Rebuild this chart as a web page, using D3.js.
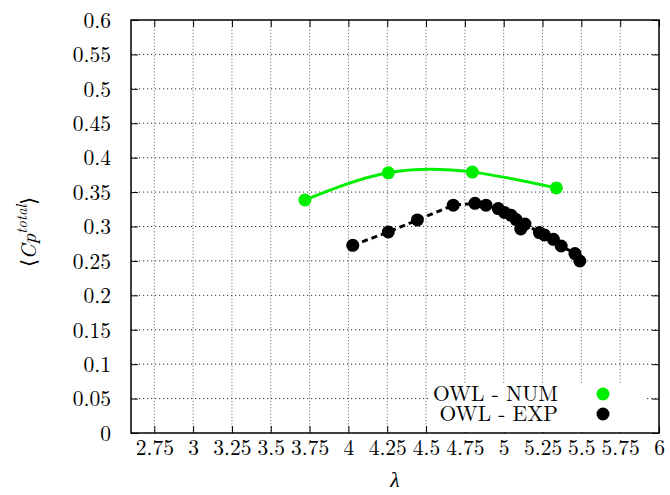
<!DOCTYPE html>
<html><head><meta charset="utf-8">
<script src="https://cdn.jsdelivr.net/npm/d3@7"></script>
<style>body{margin:0;background:#fff}</style>
</head><body>
<svg id="c" width="670" height="495"></svg>
<script>
// ---- data ----
const numLambda = [3.72, 4.257, 4.798, 5.339];
const numCp     = [0.3385, 0.378, 0.379, 0.356];
const expLambda = [4.028, 4.257, 4.444, 4.675, 4.815, 4.886, 4.965, 5.005, 5.048, 5.08, 5.11, 5.137, 5.23, 5.262, 5.32, 5.37, 5.459, 5.49];
const expCp     = [0.2727, 0.292, 0.3095, 0.331, 0.3337, 0.331, 0.326, 0.3205, 0.3162, 0.31, 0.2964, 0.3035, 0.2912, 0.2877, 0.2814, 0.2717, 0.2606, 0.2499];
const xTicks = [2.75, 3, 3.25, 3.5, 3.75, 4, 4.25, 4.5, 4.75, 5, 5.25, 5.5, 5.75, 6];
const yTicks = [0, 0.05, 0.1, 0.15, 0.2, 0.25, 0.3, 0.35, 0.4, 0.45, 0.5, 0.55, 0.6];
const seriesNames = ["OWL - NUM", "OWL - EXP"];
const seriesColors = ["#00ee00", "#000000"];

const L = 131, R = 659, T = 20, B = 433;
const x = d3.scaleLinear().domain([2.6, 6]).range([L, R]);
const y = d3.scaleLinear().domain([0, 0.6]).range([B, T]);
const svg = d3.select("#c");
const font = '"Latin Modern Roman", "Liberation Serif", serif';

// grid
const g = svg.append("g");
g.selectAll(".gx").data(xTicks.filter(d => d < 6)).enter().append("line")
  .attr("x1", d => x(d)).attr("x2", d => x(d)).attr("y1", T).attr("y2", B)
  .attr("stroke", "#777").attr("stroke-width", 1).attr("stroke-dasharray", "1.2,2");
g.selectAll(".gy").data(yTicks.filter(d => d > 0 && d < 0.6)).enter().append("line")
  .attr("x1", L).attr("x2", R).attr("y1", d => y(d)).attr("y2", d => y(d))
  .attr("stroke", "#333").attr("stroke-width", 1).attr("stroke-dasharray", "1.2,2.8");

// axes (inward ticks, mirrored)
const tl = 7;
const xb = svg.append("g").attr("transform", `translate(0,${B})`)
  .call(d3.axisBottom(x).tickValues(xTicks).tickSize(-tl).tickPadding(tl + 9).tickFormat(d3.format("")));
const xt = svg.append("g").attr("transform", `translate(0,${T})`)
  .call(d3.axisTop(x).tickValues(xTicks).tickSize(-tl).tickFormat(""));
const yl = svg.append("g").attr("transform", `translate(${L},0)`)
  .call(d3.axisLeft(y).tickValues(yTicks).tickSize(-tl).tickPadding(tl + 13).tickFormat(d3.format("")));
const yr = svg.append("g").attr("transform", `translate(${R},0)`)
  .call(d3.axisRight(y).tickValues(yTicks).tickSize(-tl).tickFormat(""));
[xb, xt, yl, yr].forEach(a => {
  a.attr("font-family", null).attr("font-size", null);
  a.select(".domain").remove();
  a.selectAll("line").attr("stroke", "#000").attr("stroke-width", 1);
  a.selectAll("text").style("font-family", font).style("font-size", "21.5px").attr("fill", "#000");
});
xb.selectAll("text").attr("dy", "0.3em");
yl.selectAll("text").attr("dy", "0.34em");

// legend background
svg.append("rect").attr("x", 428).attr("y", 383).attr("width", 218).attr("height", 49).attr("fill", "#fff");

// border
svg.append("rect").attr("x", L).attr("y", T).attr("width", R - L).attr("height", B - T)
  .attr("fill", "none").attr("stroke", "#000").attr("stroke-width", 1.5);

// NUM curve
const numData = numLambda.map((v, i) => [v, numCp[i]]);
svg.append("path").datum(numData)
  .attr("d", d3.line().x(d => x(d[0])).y(d => y(d[1])).curve(d3.curveNatural))
  .attr("fill", "none").attr("stroke", seriesColors[0]).attr("stroke-width", 3);
svg.selectAll(".pn").data(numData).enter().append("circle")
  .attr("cx", d => x(d[0])).attr("cy", d => y(d[1])).attr("r", 6.5).attr("fill", seriesColors[0]);

// EXP
const expData = expLambda.map((v, i) => [v, expCp[i]]);
svg.append("path").datum(expData)
  .attr("d", d3.line().x(d => x(d[0])).y(d => y(d[1])))
  .attr("fill", "none").attr("stroke", seriesColors[1]).attr("stroke-width", 3).attr("stroke-dasharray", "6,4");
svg.selectAll(".pe").data(expData).enter().append("circle")
  .attr("cx", d => x(d[0])).attr("cy", d => y(d[1])).attr("r", 6.5).attr("fill", seriesColors[1]);

// legend
seriesNames.forEach((n, i) => {
  const yy = 394 + i * 20;
  svg.append("text").attr("x", 558).attr("y", yy).attr("dy", "0.33em").attr("text-anchor", "end")
    .style("font-family", font).style("font-size", "21.5px").text(n);
  svg.append("circle").attr("cx", 603).attr("cy", yy).attr("r", 6.5).attr("fill", seriesColors[i]);
});

// axis titles
svg.append("text").attr("x", 395).attr("y", 487).attr("text-anchor", "middle")
  .style("font-family", font).style("font-style", "italic").style("font-size", "21.5px").text("λ");
const yt = svg.append("text").attr("transform", "translate(36,232) rotate(-90)").attr("text-anchor", "middle")
  .style("font-family", font).style("font-size", "21px");
yt.append("tspan").text("⟨");
yt.append("tspan").style("font-style", "italic").text("Cp");
yt.append("tspan").style("font-style", "italic").style("font-size", "15px").attr("dy", "-0.6em").text("total");
yt.append("tspan").attr("dy", "0.42em").text("⟩");
</script>
</body></html>
